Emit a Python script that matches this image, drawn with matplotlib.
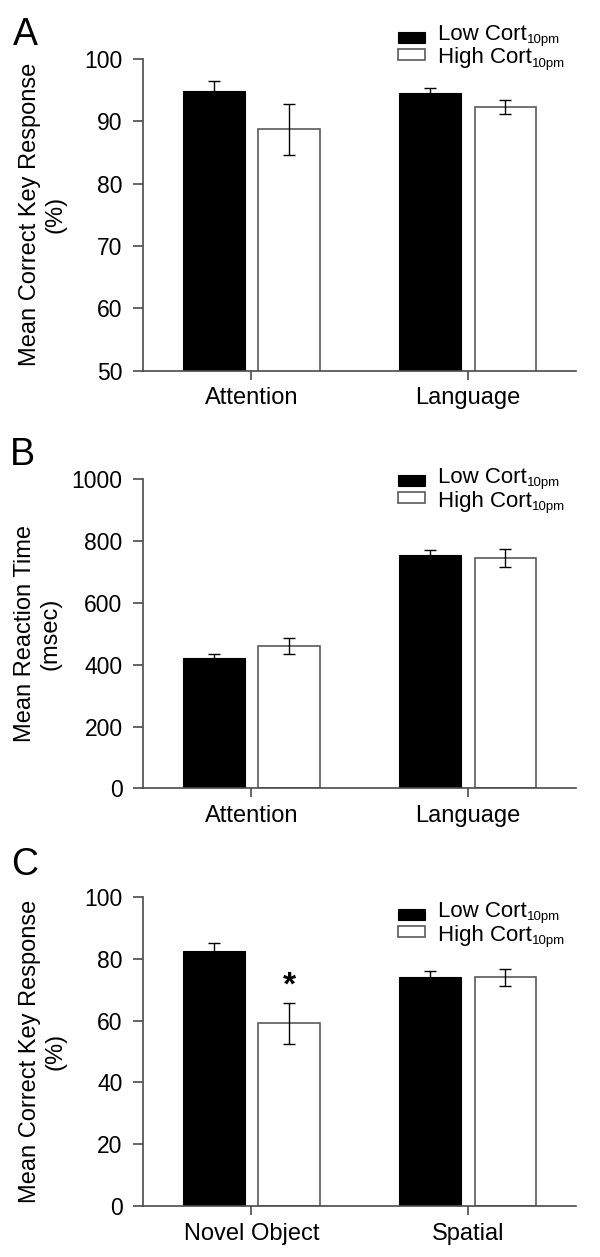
import matplotlib
matplotlib.use("Agg")
import matplotlib.pyplot as plt
import numpy as np
from matplotlib.legend_handler import HandlerPatch, update_from_first_child
from matplotlib.patches import Rectangle

plt.rcParams['font.family'] = ['Liberation Sans', 'DejaVu Sans']

# ---------------- Data ----------------
series_names = ["Low Cort", "High Cort"]
series_sub = "10pm"

a_cats = ["Attention", "Language"]
a_low = [94.8, 94.5]
a_low_err = [1.7, 0.8]
a_high = [88.7, 92.3]
a_high_err = [4.1, 1.15]

b_cats = ["Attention", "Language"]
b_low = [423, 756]
b_low_err = [13, 15]
b_high = [461, 746]
b_high_err = [27, 29]

c_cats = ["Novel Object", "Spatial"]
c_low = [82.6, 74.1]
c_low_err = [2.6, 2.1]
c_high = [59.1, 74.0]
c_high_err = [6.7, 2.7]

W, H = 600, 1257
fig = plt.figure(figsize=(W / 100, H / 100), dpi=100)

AX_L, AX_R = 143.3, 576.0
panels = [
    dict(letter="A", cats=a_cats, low=a_low, lerr=a_low_err, high=a_high, herr=a_high_err,
         ylim=(50, 100), yticks=[50, 60, 70, 80, 90, 100],
         ylabel="Mean Correct Key Response\n(%)", top=59.0, bot=370.5,
         lab_x=-0.177, leg_b1=40.0, letter_xy=(25, 45)),
    dict(letter="B", cats=b_cats, low=b_low, lerr=b_low_err, high=b_high, herr=b_high_err,
         ylim=(0, 1000), yticks=[0, 200, 400, 600, 800, 1000],
         ylabel="Mean Reaction Time\n(msec)", top=479.3, bot=788.3,
         lab_x=-0.19, leg_b1=483.0, letter_xy=(22, 465)),
    dict(letter="C", cats=c_cats, low=c_low, lerr=c_low_err, high=c_high, herr=c_high_err,
         ylim=(0, 100), yticks=[0, 20, 40, 60, 80, 100],
         ylabel="Mean Correct Key Response\n(%)", top=897.0, bot=1206.0,
         lab_x=-0.177, leg_b1=917.0, letter_xy=(25, 875)),
]

spine_col = "#4a4a4a"
off = 0.1735
w = 0.285
LEG_FS = 16
fs_px = LEG_FS * 100 / 72.0


def make_handler(dy_pt):
    def f(legend, orig_handle, xdescent, ydescent, width, height, fontsize):
        return Rectangle((-xdescent, -ydescent + dy_pt), width, height)
    return HandlerPatch(patch_func=f, update_func=update_from_first_child)


def build_legend(ax, handles, anchor, dys, spacing):
    hm = {handles[0]: make_handler(dys[0]), handles[1]: make_handler(dys[1])}
    return ax.legend(handles, series_names, loc="upper left", bbox_to_anchor=anchor,
                     frameon=False, fontsize=LEG_FS, handlelength=1.215,
                     handleheight=0.405, handletextpad=0.585, labelspacing=spacing,
                     borderpad=0, borderaxespad=0, handler_map=hm)


axes_info = []
for p in panels:
    rect = [AX_L / W, 1 - p["bot"] / H, (AX_R - AX_L) / W, (p["bot"] - p["top"]) / H]
    ax = fig.add_axes(rect)
    x = np.arange(len(p["cats"]))
    b1 = ax.bar(x - off, p["low"], w, color="black", edgecolor="black", linewidth=0.8, zorder=2)
    b2 = ax.bar(x + off, p["high"], w, color="white", edgecolor="#5a5a5a", linewidth=1.2, zorder=2)
    ax.errorbar(x - off, p["low"], yerr=p["lerr"], fmt="none", ecolor="black",
                elinewidth=1.0, capsize=4.5, capthick=1.0, zorder=3)
    ax.errorbar(x + off, p["high"], yerr=p["herr"], fmt="none", ecolor="black",
                elinewidth=1.0, capsize=4.5, capthick=1.0, zorder=3)
    ax.set_xlim(-0.5, 1.5)
    ax.set_ylim(*p["ylim"])
    ax.set_yticks(p["yticks"])
    ax.set_xticks(x)
    ax.set_xticklabels(p["cats"], fontsize=17)
    ax.tick_params(axis="y", labelsize=16.5, length=7.4, width=1.2, pad=7.5, color=spine_col)
    ax.tick_params(axis="x", length=6.7, width=1.2, pad=5.5, color=spine_col)
    for s in ["top", "right"]:
        ax.spines[s].set_visible(False)
    for s in ["left", "bottom"]:
        ax.spines[s].set_color(spine_col)
        ax.spines[s].set_linewidth(1.2)
    ax.set_ylabel(p["ylabel"], fontsize=17, linespacing=1.2)
    ax.yaxis.set_label_coords(p["lab_x"], 0.5)
    fig.text(p["letter_xy"][0] / W, 1 - p["letter_xy"][1] / H, p["letter"], fontsize=27,
             ha="center", va="baseline")
    if p["letter"] == "C":
        ax.text(x[0] + off, 68.5, "*", fontsize=24, fontweight="bold", ha="center", va="baseline")
    axes_info.append(dict(ax=ax, handles=[b1, b2], p=p))

# ---- legend fine positioning (pixel targets) ----
renderer = fig.canvas.get_renderer()


def measure(leg):
    fig.canvas.draw()
    out = []
    for t, hnd in zip(leg.get_texts(), leg.legend_handles):
        tb = t.get_window_extent(renderer)
        _, _, d = renderer.get_text_width_height_descent("lp", t.get_fontproperties(), ismath=False)
        base_td = H - (tb.y0 + d)
        hb = hnd.get_window_extent(renderer)
        out.append(dict(base=base_td, pc=H - (hb.y0 + hb.y1) / 2, px=hb.x0, tb=tb, d=d))
    return out


for info in axes_info:
    ax, p = info["ax"], info["p"]
    ax_w_px = AX_R - AX_L
    ax_h_px = p["bot"] - p["top"]
    anchor = [(398 - AX_L) / ax_w_px, 1.0]
    spacing = 0.0
    dys = [0.0, 0.0]
    leg = build_legend(ax, info["handles"], tuple(anchor), dys, spacing)
    m = measure(leg)
    gap = m[1]["base"] - m[0]["base"]
    spacing += (23.5 - gap) / fs_px
    leg.remove()
    leg = build_legend(ax, info["handles"], tuple(anchor), dys, spacing)
    m = measure(leg)
    offs = [2.8, 9.1]
    for i in range(2):
        shift_down = (m[i]["base"] - offs[i]) - m[i]["pc"]
        dys[i] = -shift_down * 0.72
    anchor[0] += (398 - m[0]["px"]) / ax_w_px
    anchor[1] -= (p["leg_b1"] - m[0]["base"]) / ax_h_px
    leg.remove()
    leg = build_legend(ax, info["handles"], tuple(anchor), dys, spacing)
    m = measure(leg)
    for mm in m:
        base_disp = mm["tb"].y0 + mm["d"]
        fig.text((mm["tb"].x1 + 0.5) / W, (base_disp - 3.3) / H, series_sub,
                 fontsize=9.5, ha="left", va="baseline")

fig.savefig("out.png", dpi=100)
